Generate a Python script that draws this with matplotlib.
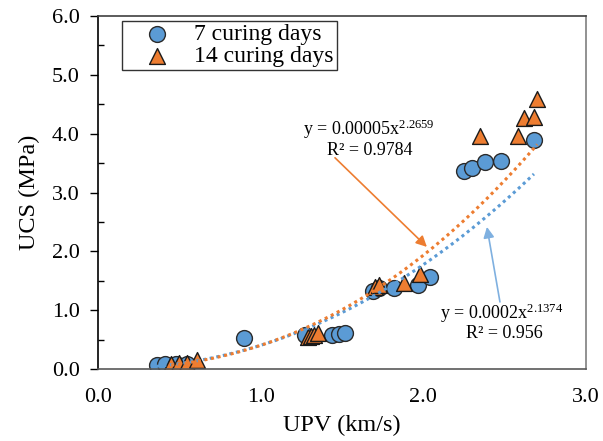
import numpy as np
import matplotlib
matplotlib.use("Agg")
import matplotlib.pyplot as plt
from matplotlib.ticker import MultipleLocator

plt.rcParams['font.family'] = ['Liberation Serif', 'DejaVu Serif']
plt.rcParams['mathtext.fontset'] = 'custom'
plt.rcParams['mathtext.rm'] = 'Liberation Serif'
plt.rcParams['mathtext.default'] = 'regular'

# 7 curing days
upv_7 = [0.36, 0.41, 0.48, 0.55, 0.90, 1.27, 1.44, 1.48, 1.52,
         1.69, 1.73, 1.82, 1.97, 2.04, 2.25, 2.30, 2.38, 2.48, 2.68]
ucs_7 = [0.07, 0.085, 0.08, 0.08, 0.53, 0.58, 0.58, 0.60, 0.62,
         1.33, 1.37, 1.37, 1.43, 1.56, 3.36, 3.41, 3.51, 3.53, 3.89]

# 14 curing days
upv_14 = [0.45, 0.50, 0.55, 0.61, 1.29, 1.31, 1.33, 1.35,
          1.70, 1.73, 1.88, 1.98, 2.35, 2.58, 2.62, 2.68, 2.70]
ucs_14 = [0.085, 0.10, 0.10, 0.15, 0.55, 0.56, 0.58, 0.61,
          1.40, 1.43, 1.46, 1.62, 3.96, 3.96, 4.26, 4.29, 4.59]

# power trendlines y = a * x^b (as drawn on the chart)
trend_a = [0.403, 0.402]   # 7 days, 14 days
trend_b = [2.1374, 2.2659]

blue = '#5B9BD5'
orange = '#ED7D31'

fig = plt.figure(figsize=(6.03, 4.41), dpi=100)
ax = fig.add_axes([98/603, 1 - 369/441, 488/603, 353/441])

ax.scatter(upv_7, ucs_7, s=130, marker='o', color=blue, edgecolor='#2b2b2b',
           linewidth=1.0, zorder=2, label='7 curing days')
ax.scatter(upv_14, ucs_14, s=130, marker='^', color=orange, edgecolor='#1a1a1a',
           linewidth=1.0, zorder=2, label='14 curing days')

# trendlines
for xs, a, b, c in [(upv_7, trend_a[0], trend_b[0], blue),
                    (upv_14, trend_a[1], trend_b[1], orange)]:
    xx = np.linspace(min(xs), max(xs), 200)
    ax.plot(xx, a * xx ** b, linestyle=(0, (1, 1.2)), color=c, linewidth=2.2, zorder=3)

# equations
ax.text(1.66, 4.08, r'y = 0.00005x$^{2.2659}$', ha='center', va='center', fontsize=13)
ax.text(1.67, 3.72, 'R² = 0.9784', ha='center', va='center', fontsize=13)
ax.text(2.48, 0.95, r'y = 0.0002x$^{2.1374}$', ha='center', va='center', fontsize=13)
ax.text(2.50, 0.61, 'R² = 0.956', ha='center', va='center', fontsize=13)

ax.annotate('', xy=(2.022, 2.075), xytext=(1.457, 3.59),
            arrowprops=dict(arrowstyle='-|>', color=orange, lw=1.2,
                            mutation_scale=16, shrinkA=0, shrinkB=0))
ax.annotate('', xy=(2.391, 2.415), xytext=(2.471, 1.14),
            arrowprops=dict(arrowstyle='-|>', color='#7fb0e0', lw=1.2,
                            mutation_scale=16, shrinkA=0, shrinkB=0))

ax.set_xlim(0, 3)
ax.set_ylim(0, 6)
ax.xaxis.set_major_locator(MultipleLocator(1.0))
ax.yaxis.set_major_locator(MultipleLocator(1.0))
ax.yaxis.set_minor_locator(MultipleLocator(0.5))
ax.xaxis.set_major_formatter(plt.FormatStrFormatter('%.1f'))
ax.yaxis.set_major_formatter(plt.FormatStrFormatter('%.1f'))

ax.tick_params(axis='x', length=0, pad=14, labelsize=16)
ax.tick_params(axis='y', which='major', direction='out', length=6, width=1,
               pad=7, labelsize=16)
ax.tick_params(axis='y', which='minor', direction='in', length=4, width=1)

ax.set_xlabel('UPV (km/s)', fontsize=17.5)
ax.set_ylabel('UCS (MPa)', fontsize=17.5)
ax.xaxis.set_label_coords(0.5, -0.13)
ax.yaxis.set_label_coords(-0.118, 0.5)

ax.spines['left'].set_color('black')
ax.spines['bottom'].set_color('#595959')
ax.spines['top'].set_color('#404040')
ax.spines['right'].set_color('#7f7f7f')
for s in ax.spines.values():
    s.set_linewidth(1.2)

leg = ax.legend(loc='upper left', bbox_to_anchor=(0.049, 0.986), fontsize=17,
                frameon=True, fancybox=False, edgecolor='black', borderpad=0.12,
                labelspacing=0.0, handletextpad=0.25, borderaxespad=0,
                handlelength=2.7)
leg.get_frame().set_linewidth(1.0)

fig.savefig('out.png', dpi=100)
